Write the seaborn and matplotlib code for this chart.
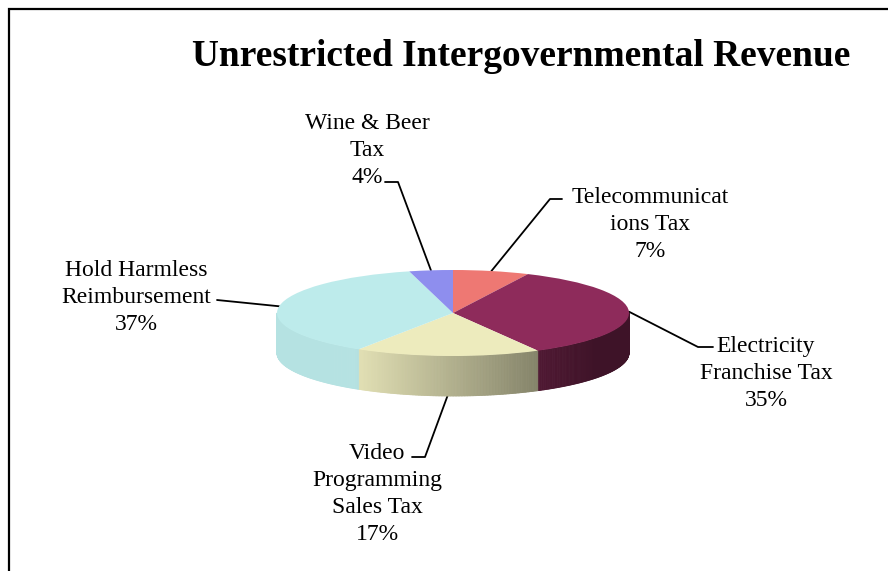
import numpy as np
import matplotlib
matplotlib.use("Agg")
import matplotlib.pyplot as plt
from matplotlib.collections import PolyCollection
from matplotlib.colors import to_rgb
import seaborn as sns

# Revenue shares by source, in drawing order (clockwise from 12 o'clock)
categories = [
    "Telecommunicat\nions Tax",
    "Electricity\nFranchise Tax",
    "Video\nProgramming\nSales Tax",
    "Hold Harmless\nReimbursement",
    "Wine & Beer\nTax",
]
shares = [7, 35, 17, 37, 4]
slice_colors = ["#EE7873", "#8E2B5B", "#EDEBBD", "#BDEBEB", "#8E8EEE"]
title = "Unrestricted Intergovernmental Revenue"

sns.set_theme(style="white")
plt.rcParams["font.family"] = ["Liberation Serif", "DejaVu Serif"]

W, H = 888, 571
fig = plt.figure(figsize=(W / 100, H / 100), dpi=100)
fig.patch.set_facecolor("white")

# Background axes in pixel coordinates (y downwards) for frame, title, labels
bg = fig.add_axes([0, 0, 1, 1])
bg.set_xlim(0, W)
bg.set_ylim(H, 0)
bg.axis("off")

# Chart frame (only the top and left edges fall inside the canvas)
bg.plot([9, 9, W + 5], [H + 5, 9, 9], color="black", lw=1.6,
        solid_joinstyle="miter", zorder=1)

bg.text(521, 66, title, ha="center", va="baseline", fontsize=26.9,
        fontweight="bold", color="black")

# Geometry of the tilted pie (pixels)
cx, cy, rx, ry, depth = 453, 313, 176, 43, 40
d = depth / ry

pad = 0.1
x0 = cx - (1 + pad) * rx
x1 = cx + (1 + pad) * rx
ytop = cy - (1 + pad) * ry
ybot = cy + ry + depth + pad * ry
pie_ax = fig.add_axes([x0 / W, (H - ybot) / H, (x1 - x0) / W, (ybot - ytop) / H])
pie_ax.set_facecolor("none")

total = float(sum(shares))
bounds = 90 - 360 * np.concatenate([[0], np.cumsum(shares)]) / total


def shade(u):
    return np.clip(0.96 - 0.385 * (u + 0.56), 0.44, 0.96)


# Side wall: only the front half (angles between -180 and 0) is visible
polys, cols = [], []
for i, col in enumerate(slice_colors):
    a0, a1 = bounds[i], bounds[i + 1]
    lo, hi = max(a1, -180), min(a0, 0)
    if hi <= lo:
        continue
    edges = np.linspace(hi, lo, max(2, int((hi - lo) / 0.5) + 1))
    base = np.array(to_rgb(col))
    for t0, t1 in zip(edges[:-1], edges[1:]):
        r0, r1 = np.radians(t0), np.radians(t1)
        xa, ya = np.cos(r0), np.sin(r0)
        xb, yb = np.cos(r1), np.sin(r1)
        polys.append([(xa, ya), (xb, yb), (xb, yb - d), (xa, ya - d)])
        u = np.cos((r0 + r1) / 2)
        cols.append(tuple(base * shade(u)))

pie_ax.add_collection(PolyCollection(polys, facecolors=cols, edgecolors=cols,
                                     linewidths=0.6, zorder=1))

# Top face
wedges, _ = pie_ax.pie(shares, colors=slice_colors, startangle=90,
                       counterclock=False, radius=1, center=(0, 0),
                       wedgeprops=dict(linewidth=0), frame=True)
for w in wedges:
    w.set_zorder(2)
pie_ax.set_aspect("auto")
pie_ax.set_xlim(-1 - pad, 1 + pad)
pie_ax.set_ylim(-1 - d - pad, 1 + pad)
pie_ax.axis("off")

# Labels with leader lines (text anchored on the baseline of its last line)
label_pos = [(650, 257), (766, 406), (377, 540), (136, 330), (367, 183)]
leader_start = [((562, 199), (550, 199)),
                ((713, 347), (698, 347)),
                ((412, 457), (425, 457)),
                ((217, 300), (217, 300)),
                ((385, 182), (398, 182))]

mids = (bounds[:-1] + bounds[1:]) / 2
for name, v, m, (lx, ly), (p0, p1) in zip(categories, shares, mids,
                                           label_pos, leader_start):
    r = np.radians(m)
    px = cx + rx * np.cos(r)
    py = cy - ry * np.sin(r)
    if np.sin(r) < -0.5:
        py += depth
    bg.plot([p0[0], p1[0], px], [p0[1], p1[1], py], color="black", lw=1.3,
            zorder=3)
    bg.text(lx, ly, f"{name}\n{v / total:.0%}", ha="center", va="baseline",
            multialignment="center", fontsize=17, linespacing=1.38,
            color="black")

fig.savefig("out.png", dpi=100)
